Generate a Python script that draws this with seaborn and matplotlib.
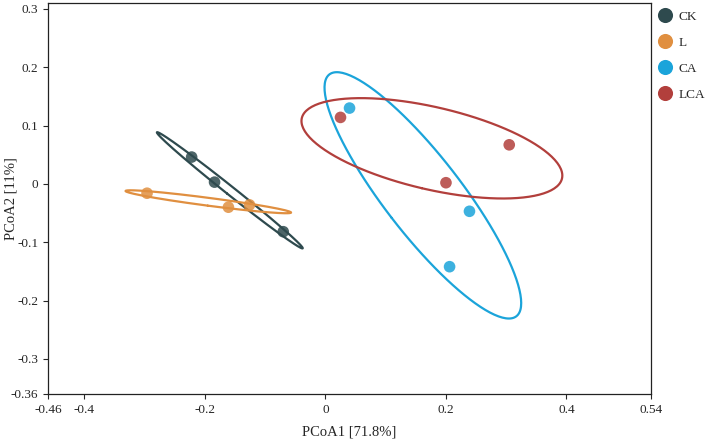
import numpy as np
import pandas as pd
import matplotlib
matplotlib.use("Agg")
import matplotlib.pyplot as plt
import seaborn as sns

# PCoA scores
groups = ["CK", "L", "CA", "LCA"]
ck_x = [-0.222, -0.184, -0.070]
ck_y = [0.046, 0.003, -0.082]
l_x = [-0.296, -0.161, -0.126]
l_y = [-0.016, -0.040, -0.036]
ca_x = [0.040, 0.239, 0.206]
ca_y = [0.130, -0.047, -0.142]
lca_x = [0.025, 0.200, 0.305]
lca_y = [0.114, 0.002, 0.067]

xticks = [-0.46, -0.4, -0.2, 0, 0.2, 0.4, 0.54]
yticks = [-0.36, -0.3, -0.2, -0.1, 0, 0.1, 0.2, 0.3]
line_colors = {"CK": "#2E4A4E", "L": "#E08F40", "CA": "#1BA4DA", "LCA": "#B23F3C"}

df = pd.DataFrame({
    "PC1": ck_x + l_x + ca_x + lca_x,
    "PC2": ck_y + l_y + ca_y + lca_y,
    "group": ["CK"] * 3 + ["L"] * 3 + ["CA"] * 3 + ["LCA"] * 3,
})

sns.set_style("white")
plt.rcParams["font.family"] = ["Liberation Serif", "DejaVu Serif"]

fig = plt.figure(figsize=(7.09, 4.43), dpi=100)
ax = fig.add_axes([0.068, 0.111, 0.850, 0.882])


def ellipse(x, y, r=1.53, n=200):
    pts = np.column_stack([x, y])
    mu = pts.mean(axis=0)
    vals, vecs = np.linalg.eigh(np.cov(pts.T))
    t = np.linspace(0, 2 * np.pi, n)
    circ = np.column_stack([np.cos(t), np.sin(t)]) * np.sqrt(np.clip(vals, 0, None)) * r
    return mu + circ @ vecs.T


for g in groups:
    sub = df[df.group == g]
    e = ellipse(sub.PC1.values, sub.PC2.values)
    ax.plot(e[:, 0], e[:, 1], color=line_colors[g], lw=1.6, zorder=2)

sns.scatterplot(data=df, x="PC1", y="PC2", hue="group", hue_order=groups,
                palette=line_colors, s=70, alpha=0.85, edgecolor="none",
                ax=ax, zorder=3)

ax.set_xlim(-0.46, 0.54)
ax.set_ylim(-0.36, 0.31)
ax.set_xticks(xticks)
ax.set_xticklabels(["-0.46", "-0.4", "-0.2", "0", "0.2", "0.4", "0.54"])
ax.set_yticks(yticks)
ax.set_yticklabels(["-0.36", "-0.3", "-0.2", "-0.1", "0", "0.1", "0.2", "0.3"])
ax.tick_params(direction="out", length=3.5, width=0.8, pad=3.5, labelsize=9.5,
               left=True, bottom=True)
for sp in ax.spines.values():
    sp.set_linewidth(0.9)
    sp.set_color("#222222")
ax.set_xlabel("PCoA1 [71.8%]", fontsize=10.5, labelpad=7)
ax.set_ylabel("PCoA2 [11%]", fontsize=10.5)
ax.yaxis.set_label_coords(-0.051, 0.5)

handles, labels = ax.get_legend_handles_labels()
ax.legend(handles, labels, loc="upper left", bbox_to_anchor=(1.0, 1.0),
          frameon=False, fontsize=9.5, markerscale=1.3, labelspacing=1.05,
          handlelength=1.0, handletextpad=0.55, borderaxespad=0.15)
for h in ax.get_legend().legend_handles:
    h.set_alpha(1.0)

fig.savefig("out.png", dpi=100)
